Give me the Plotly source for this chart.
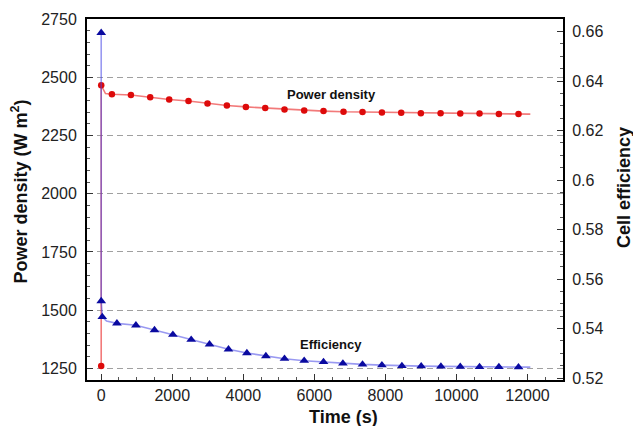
import plotly.graph_objects as go

# ---------------- data ----------------
# Power density markers (left axis)
power_time = [0, 0, 301, 836, 1379, 1914, 2457, 2992, 3538, 4073, 4617, 5160,
              5714, 6258, 6821, 7356, 7902, 8445, 8999, 9554, 10108, 10650, 11195, 11747]
power_vals = [1260, 2466, 2427, 2424, 2414, 2405, 2398, 2388, 2379, 2373, 2368, 2362,
              2358, 2355, 2352, 2351, 2349, 2348, 2346, 2346, 2345, 2345, 2343, 2343]
# Power density fitted curve
power_line_time = [0, 0, 120, 301, 836, 1379, 1914, 2457, 2992, 3538, 4073, 4617, 5160,
                   5714, 6258, 6821, 7356, 7902, 8445, 8999, 9554, 10108, 10650, 11195, 11747, 12080]
power_line_vals = [1260, 2466, 2430, 2427, 2424, 2414, 2405, 2398, 2388, 2379, 2373, 2368, 2362,
                   2358, 2355, 2352, 2351, 2349, 2348, 2346, 2346, 2345, 2345, 2343, 2343, 2342]

# Cell efficiency markers (right axis)
eff_time = [0, 0, 30, 442, 977, 1500, 2018, 2533, 3049, 3583, 4101, 4636, 5160,
            5714, 6258, 6804, 7356, 7902, 8465, 9008, 9563, 10108, 10650, 11195, 11747]
eff_vals = [0.6595, 0.5511, 0.5447, 0.5421, 0.5413, 0.5394, 0.5375, 0.5355, 0.5336, 0.5316,
            0.5301, 0.5289, 0.5278, 0.5270, 0.5265, 0.5259, 0.5255, 0.5252, 0.5249, 0.5248,
            0.5247, 0.5246, 0.5245, 0.5245, 0.5244]
# Cell efficiency fitted curve
eff_line_time = [0, 0, 30, 150, 442, 977, 1500, 2018, 2533, 3049, 3583, 4101, 4636, 5160,
                 5714, 6258, 6804, 7356, 7902, 8465, 9008, 9563, 10108, 10650, 11195, 11747, 12080]
eff_line_vals = [0.6595, 0.5511, 0.5447, 0.5430, 0.5421, 0.5413, 0.5394, 0.5375, 0.5355, 0.5336,
                 0.5316, 0.5301, 0.5289, 0.5278, 0.5270, 0.5265, 0.5259, 0.5255, 0.5252, 0.5249,
                 0.5248, 0.5247, 0.5246, 0.5245, 0.5245, 0.5244, 0.5244]

# Ticks
x_ticks = [0, 2000, 4000, 6000, 8000, 10000, 12000]
x_tick_text = ["0", "2000", "4000", "6000", "8000", "10000", "12000"]
left_ticks = [1250, 1500, 1750, 2000, 2250, 2500, 2750]
left_tick_text = ["1250", "1500", "1750", "2000", "2250", "2500", "2750"]
right_ticks = [0.52, 0.54, 0.56, 0.58, 0.60, 0.62, 0.64, 0.66]
right_tick_text = ["0.52", "0.54", "0.56", "0.58", "0.6", "0.62", "0.64", "0.66"]

FONT = "Liberation Sans, Arial, sans-serif"

fig = go.Figure()

fig.add_trace(go.Scatter(x=eff_line_time, y=eff_line_vals, yaxis="y2", mode="lines",
                         line=dict(color="rgba(70,70,230,0.55)", width=1.6),
                         showlegend=False, hoverinfo="skip"))
fig.add_trace(go.Scatter(x=power_line_time, y=power_line_vals, mode="lines",
                         line=dict(color="rgba(235,50,50,0.65)", width=1.6),
                         showlegend=False, hoverinfo="skip"))
fig.add_trace(go.Scatter(x=power_time, y=power_vals, mode="markers",
                         marker=dict(symbol="circle", size=6.5, color="#dd0a0a"),
                         showlegend=False))
fig.add_trace(go.Scatter(x=eff_time, y=eff_vals, yaxis="y2", mode="markers",
                         marker=dict(symbol="triangle-up", size=8.5, color="#0a0aa0"),
                         showlegend=False))

tickfont = dict(family=FONT, size=16, color="#222222")

# plot area in pixels
plot_l, plot_r, plot_t, plot_b = 87, 563, 19, 380
W, H = 633, 426


def px_x(p):
    return (p - plot_l) / (plot_r - plot_l)


def px_y(p):
    return (plot_b - p) / (plot_b - plot_t)


title_font = dict(family=FONT, size=18, color="#111")

fig.update_layout(
    width=W, height=H,
    margin=dict(l=plot_l, r=W - plot_r, t=plot_t, b=H - plot_b, autoexpand=False),
    paper_bgcolor="white", plot_bgcolor="white",
    showlegend=False,
    xaxis=dict(range=[-400, 13000], tickvals=x_ticks, ticktext=x_tick_text,
               ticks="inside", ticklen=6, tickwidth=1, tickcolor="#333",
               minor=dict(dtick=500, tick0=0, ticks="inside", ticklen=3, tickcolor="#555"),
               showline=True, linewidth=2, linecolor="black", mirror=True,
               showgrid=False, zeroline=False, tickfont=tickfont, ticklabelstandoff=0,
               automargin=False),
    yaxis=dict(range=[1200, 2750.5], tickvals=left_ticks, ticktext=left_tick_text,
               ticks="inside", ticklen=6, tickwidth=1, tickcolor="#333",
               minor=dict(dtick=50, tick0=0, ticks="inside", ticklen=3, tickcolor="#555"),
               showline=True, linewidth=2, linecolor="black",
               showgrid=True, gridcolor="#a0a0a0", gridwidth=1, griddash="6px,4px",
               zeroline=False, tickfont=tickfont, ticklabelstandoff=5, automargin=False),
    yaxis2=dict(range=[0.5192, 0.6651], tickvals=right_ticks, ticktext=right_tick_text,
                overlaying="y", side="right",
                ticks="inside", ticklen=6, tickwidth=1, tickcolor="#333",
                minor=dict(dtick=0.005, tick0=0.52, ticks="inside", ticklen=3, tickcolor="#555"),
                showline=True, linewidth=2, linecolor="black",
                showgrid=False, zeroline=False, tickfont=tickfont, ticklabelstandoff=4,
                automargin=False),
    annotations=[
        dict(text="<b>Power density</b>", x=6475, y=2428, xref="x", yref="y",
             xanchor="center", yanchor="middle",
             showarrow=False, font=dict(family=FONT, size=13, color="#111")),
        dict(text="<b>Efficiency</b>", x=6475, y=1354, xref="x", yref="y",
             xanchor="center", yanchor="middle",
             showarrow=False, font=dict(family=FONT, size=13, color="#111")),
        dict(text="<b>Time (s)</b>", x=px_x(343), y=px_y(417), xref="paper", yref="paper",
             xanchor="center", yanchor="middle", showarrow=False, font=title_font),
        dict(text="<b>Power density (W m<sup>2</sup>)</b>", x=px_x(19.5), y=px_y(192),
             xref="paper", yref="paper", xanchor="center", yanchor="middle",
             textangle=-90, showarrow=False, font=title_font),
        dict(text="<b>Cell efficiency</b>", x=px_x(624), y=px_y(188),
             xref="paper", yref="paper", xanchor="center", yanchor="middle",
             textangle=-90, showarrow=False, font=title_font),
    ],
)

fig.write_html("out.html", config={"displayModeBar": False},
               post_script="document.body.style.margin='0px';document.body.style.overflow='hidden';")
